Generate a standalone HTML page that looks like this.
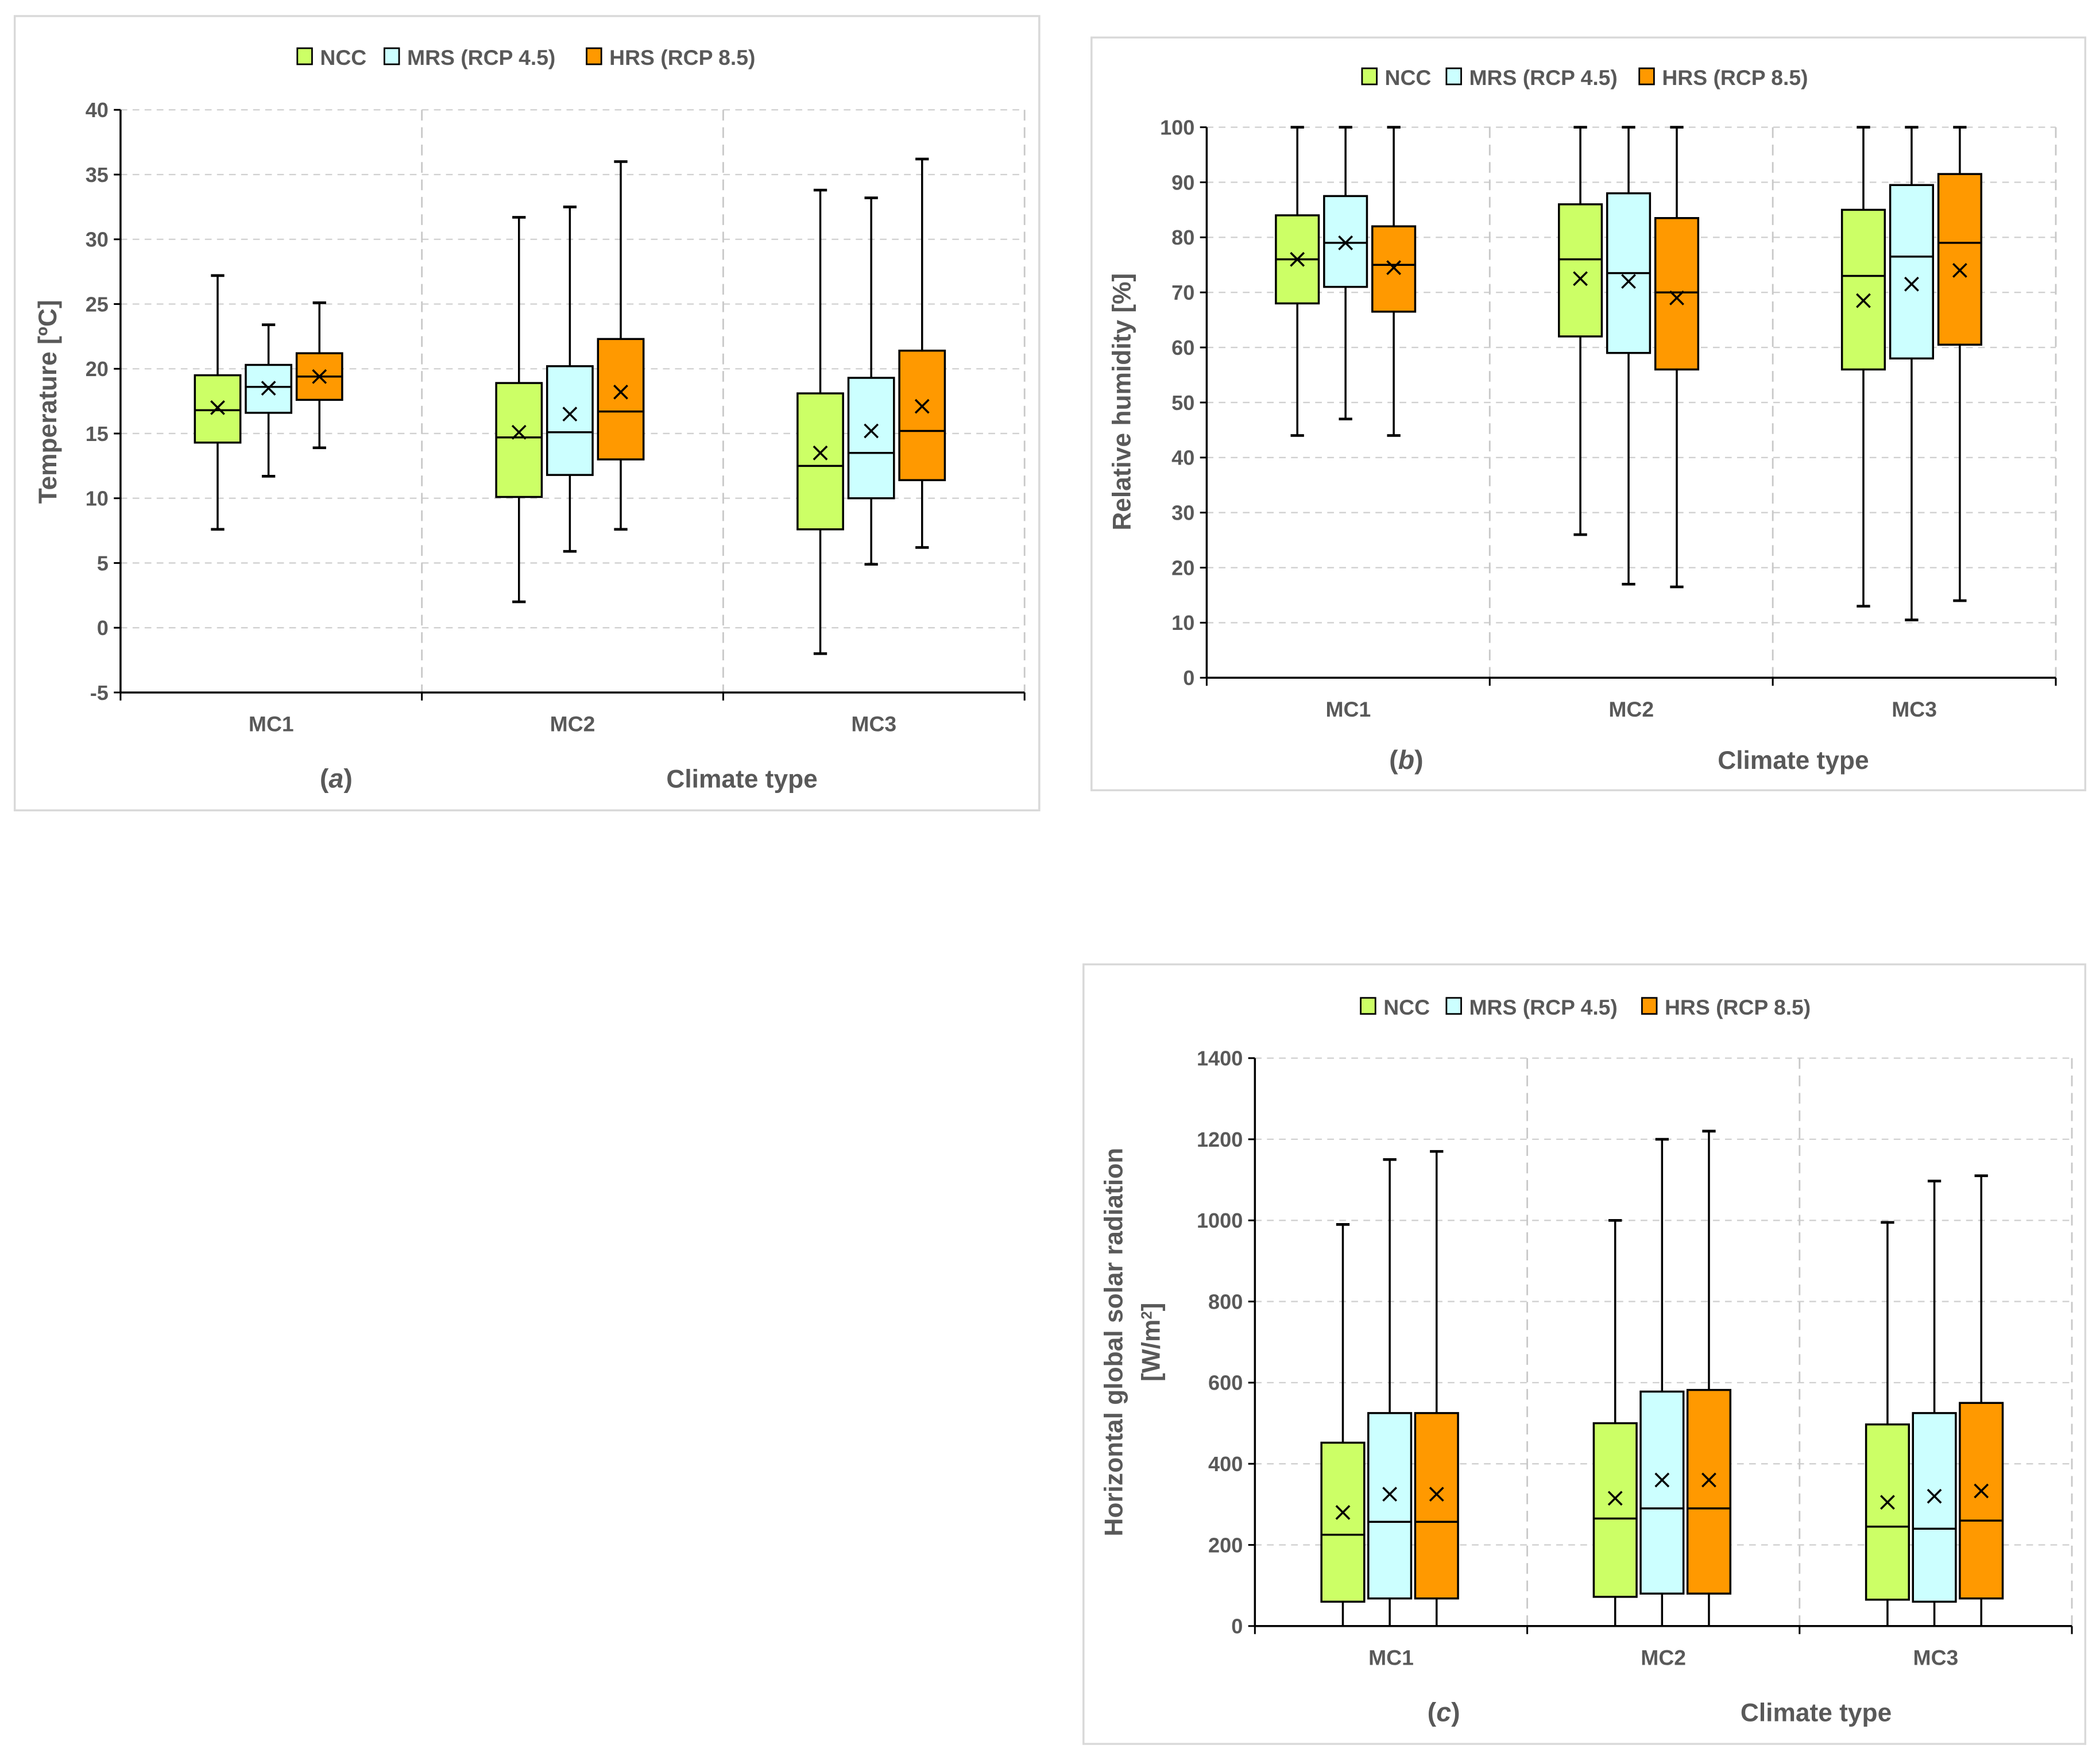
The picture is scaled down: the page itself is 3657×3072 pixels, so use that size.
<!DOCTYPE html>
<html><head><meta charset="utf-8"><style>
html,body{margin:0;padding:0;background:#fff;}
svg{display:block;}
text{font-family:"Liberation Sans",sans-serif;fill:#595959;font-weight:bold;}
</style></head><body>
<svg id="fig" width="3657" height="3072" viewBox="0 0 1568 1317" preserveAspectRatio="none" xmlns="http://www.w3.org/2000/svg"></svg>
<script>
const categories = ["MC1","MC2","MC3"];
const seriesNames = ["NCC","MRS (RCP 4.5)","HRS (RCP 8.5)"];
const seriesColors = ["#ccff66","#ccffff","#ff9900"];
// temperature: [min,q1,median,q3,max,mean] per category per series
const tempNCC = [[7.6,14.3,16.8,19.5,27.2,17.0],[2.0,10.1,14.7,18.9,31.7,15.1],[-2.0,7.6,12.5,18.1,33.8,13.5]];
const tempMRS = [[11.7,16.6,18.6,20.3,23.4,18.5],[5.9,11.8,15.1,20.2,32.5,16.5],[4.9,10.0,13.5,19.3,33.2,15.2]];
const tempHRS = [[13.9,17.6,19.4,21.2,25.1,19.4],[7.6,13.0,16.7,22.3,36.0,18.2],[6.2,11.4,15.2,21.4,36.2,17.1]];
const rhNCC = [[44,68,76,84,100,76],[26,62,76,86,100,72.5],[13,56,73,85,100,68.5]];
const rhMRS = [[47,71,79,87.5,100,79],[17,59,73.5,88,100,72],[10.5,58,76.5,89.5,100,71.5]];
const rhHRS = [[44,66.5,75,82,100,74.5],[16.5,56,70,83.5,100,69],[14,60.5,79,91.5,100,74]];
const radNCC = [[0,60,225,452,990,280],[0,72,265,500,1000,315],[0,65,245,497,995,305]];
const radMRS = [[0,68,257,525,1150,325],[0,80,290,578,1200,360],[0,60,240,525,1097,320]];
const radHRS = [[0,68,257,525,1170,325],[0,80,290,582,1220,360],[0,68,260,550,1110,333]];
const tempTicks = [-5,0,5,10,15,20,25,30,35,40];
const rhTicks = [0,10,20,30,40,50,60,70,80,90,100];
const radTicks = [0,200,400,600,800,1000,1200,1400];

const NS="http://www.w3.org/2000/svg";
const svg=document.getElementById('fig');
function mk(tag,attrs,parent,txt){const e=document.createElementNS(NS,tag);for(const k in attrs)e.setAttribute(k,attrs[k]);if(txt!==undefined)e.textContent=txt;(parent||svg).appendChild(e);return e;}

function panel(cfg){
  const g=mk('g',{});
  
  
  const b=mk('rect',{x:cfg.bx,y:cfg.by,width:cfg.bw,height:cfg.bh,fill:'none',stroke:'#d9d9d9','stroke-width':1.5},g);
  
  
  const [y0,y1]=[cfg.ticks[0],cfg.ticks[cfg.ticks.length-1]];
  const Y=v=>cfg.pb-(v-y0)/(y1-y0)*(cfg.pb-cfg.pt);
  const X0=cfg.pl, X1=cfg.pr, nC=categories.length, cw=(X1-X0)/nC;
  cfg.ticks.forEach(t=>{
    if(t!==y0){const l=mk('line',{x1:X0,x2:X1,y1:Y(t),y2:Y(t),stroke:'#d0d0d0','stroke-dasharray':'5,4','stroke-width':1},g);
    
    }
    mk('line',{x1:X0-5,x2:X0,y1:Y(t),y2:Y(t),stroke:'#000','stroke-width':1.3},g);
    const tx=mk('text',{x:X0-9,y:Y(t)+5.5,'text-anchor':'end','font-size':15.5},g,String(t));
    
    
  });
  for(let i=1;i<=nC;i++){
    const x=X0+i*cw;
    const l=mk('line',{x1:x,x2:x,y1:cfg.pt,y2:cfg.pb,stroke:'#c8c8c8','stroke-dasharray':'8,5','stroke-width':1.2},g);
    
    
  }
  for(let i=0;i<=nC;i++){const x=X0+i*cw;mk('line',{x1:x,x2:x,y1:cfg.pb,y2:cfg.pb+6,stroke:'#000','stroke-width':1.3},g);}
  const ya=mk('line',{x1:X0,x2:X0,y1:cfg.pt,y2:cfg.pb,stroke:'#000','stroke-width':1.5},g);
  
  
  const xa=mk('line',{x1:X0,x2:X1,y1:cfg.pb,y2:cfg.pb,stroke:'#000','stroke-width':1.5},g);
  
  
  categories.forEach((c,i)=>{
    const t=mk('text',{x:X0+(i+0.5)*cw,y:cfg.pb+29,'text-anchor':'middle','font-size':16},g,c);
    
    
  });
  const sets=cfg.data;
  categories.forEach((c,i)=>{
    const gc=X0+(i+0.5)*cw+cfg.shift;
    sets.forEach((s,j)=>{
      const d=s[i], cx=gc+(j-1)*cfg.off, w=cfg.bwid;
      const bg=mk('g',{},g);
      
      
      mk('line',{x1:cx,x2:cx,y1:Y(d[4]),y2:Y(d[3]),stroke:'#000','stroke-width':1.5},bg);
      mk('line',{x1:cx,x2:cx,y1:Y(d[1]),y2:Y(d[0]),stroke:'#000','stroke-width':1.5},bg);
      mk('line',{x1:cx-5,x2:cx+5,y1:Y(d[4]),y2:Y(d[4]),stroke:'#000','stroke-width':2},bg);
      if(d[0]>y0) mk('line',{x1:cx-5,x2:cx+5,y1:Y(d[0]),y2:Y(d[0]),stroke:'#000','stroke-width':2},bg);
      mk('rect',{x:cx-w/2,y:Y(d[3]),width:w,height:Y(d[1])-Y(d[3]),fill:seriesColors[j],stroke:'#000','stroke-width':1.5},bg);
      mk('line',{x1:cx-w/2,x2:cx+w/2,y1:Y(d[2]),y2:Y(d[2]),stroke:'#000','stroke-width':1.5},bg);
      const m=Y(d[5]);
      mk('path',{d:`M${cx-5},${m-5}L${cx+5},${m+5}M${cx-5},${m+5}L${cx+5},${m-5}`,stroke:'#000','stroke-width':1.5},bg);
    });
  });
  seriesNames.forEach((n,j)=>{
    const lg=mk('g',{},g);
    
    
    mk('rect',{x:cfg.leg[j],y:cfg.ly-12,width:11,height:12,fill:seriesColors[j],stroke:'#000','stroke-width':1.2},lg);
    mk('text',{x:cfg.leg[j]+17,y:cfg.ly+0.5,'font-size':16},lg,n);
  });
  cfg.ytitle.forEach((s,k)=>{
    const t=mk('text',{x:0,y:0,'text-anchor':'middle','font-size':19,transform:`translate(${cfg.ytx+k*28},${cfg.yty}) rotate(-90)`},g);
    t.innerHTML=s;
    
    
  });
  const lab=mk('text',{x:cfg.lx,y:cfg.ty,'text-anchor':'middle','font-size':20,'font-weight':'normal'},g);
  lab.innerHTML='(<tspan font-style="italic">'+cfg.letter+'</tspan>)';
  
  
  const xt=mk('text',{x:cfg.cx,y:cfg.ty,'text-anchor':'middle','font-size':19},g,'Climate type');
  
  
}

panel({name:'panel-a-temperature',bx:11,by:12,bw:765,bh:593,pl:90,pr:765,pt:82,pb:517,ticks:tempTicks,
  data:[tempNCC,tempMRS,tempHRS],shift:-2,off:38,bwid:34,leg:[222,287,438],ly:48,
  ytitle:['Temperature  [ºC]'],ytx:42,yty:300,letter:'a',lx:251,cx:554,ty:588});
panel({name:'panel-b-humidity',bx:815,by:28,bw:742,bh:562,pl:901,pr:1535,pt:95,pb:506,ticks:rhTicks,
  data:[rhNCC,rhMRS,rhHRS],shift:-2,off:36,bwid:32,leg:[1017,1080,1224],ly:63,
  ytitle:['Relative humidity  [%]'],ytx:844,yty:300,letter:'b',lx:1050,cx:1339,ty:574});
panel({name:'panel-c-radiation',bx:809,by:720,bw:748,bh:582,pl:937,pr:1547,pt:790,pb:1214,ticks:radTicks,
  data:[radNCC,radMRS,radHRS],shift:-1,off:35,bwid:32,leg:[1016,1080,1226],ly:757,
  ytitle:['Horizontal global solar radiation','[W/m<tspan baseline-shift="super" font-size="11">2</tspan>]'],ytx:838,yty:1002,letter:'c',lx:1078,cx:1356,ty:1285});
</script>
</body></html>
